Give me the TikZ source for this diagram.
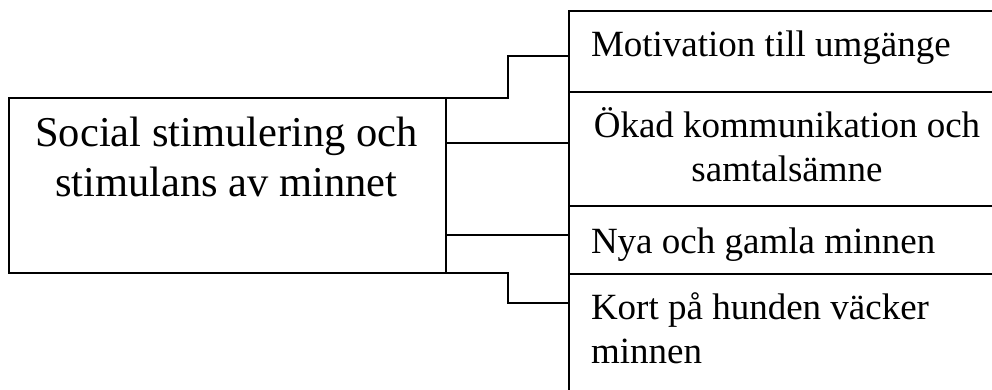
\documentclass[tikz,border=0pt]{standalone}
\usepackage{fontspec}
\setmainfont{Liberation Serif}
\begin{document}
\begin{tikzpicture}[x=1pt,y=-1pt,line width=1.2pt,
  bigtext/.style={font=\fontsize{42.5}{49}\selectfont,inner sep=0pt,outer sep=0pt},
  smalltext/.style={font=\fontsize{37}{44}\selectfont,inner sep=0pt,outer sep=0pt},
  srcbox/.style={draw,inner sep=0pt,outer sep=0pt,minimum width=437pt,minimum height=175pt},
  conn/.style={draw,line cap=butt}]
\useasboundingbox (0,0) rectangle (992,390);
% source box
\node[srcbox,anchor=north west] (src) at (9,98) {};
\node[bigtext,anchor=base,align=center] (srctext) at (226.5,196) {Social stimulering och\\stimulans av minnet};
% right column (table cut by the picture edge)
\coordinate (colTop) at (569,11);
\coordinate (colBot) at (569,390);
\coordinate (rEdge1) at (992,11);
\coordinate (div1a) at (569,92);  \coordinate (div1b) at (992,92);
\coordinate (div2a) at (569,206); \coordinate (div2b) at (992,206);
\coordinate (div3a) at (569,274); \coordinate (div3b) at (992,274);
\draw (colBot) -- (colTop) -- (rEdge1);
\draw (div1a) -- (div1b);
\draw (div2a) -- (div2b);
\draw (div3a) -- (div3b);
% texts of the right column
\node[smalltext,anchor=base west] (t1) at (591,57) {Motivation till umgänge};
\node[smalltext,anchor=base,align=center] (t2) at (787,182) {Ökad kommunikation och\\samtalsämne};
\node[smalltext,anchor=base west] (t3) at (591,253) {Nya och gamla minnen};
\node[smalltext,anchor=base west,align=left] (t4) at (591,363) {Kort på hunden väcker\\minnen};
% connector end points on the column edge
\coordinate (e1) at (569,56);
\coordinate (e2) at (569,143);
\coordinate (e3) at (569,235);
\coordinate (e4) at (569,303);
\draw[conn] (src.north east) -- ++(62,0) |- (e1);
\draw[conn] (src.east |- e2) -- (e2);
\draw[conn] (src.east |- e3) -- (e3);
\draw[conn] (src.south east) -- ++(62,0) |- (e4);
\end{tikzpicture}
\end{document}
